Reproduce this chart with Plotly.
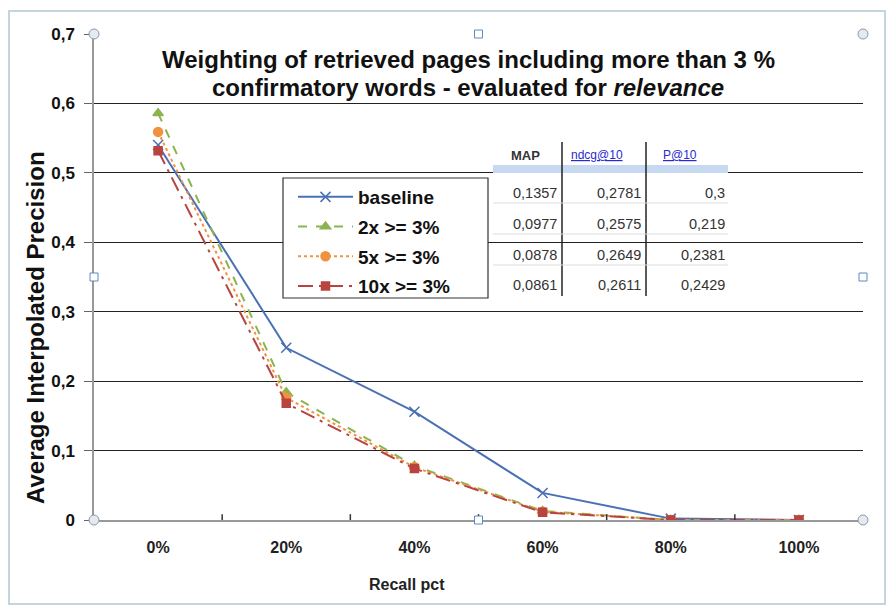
import plotly.graph_objects as go

categories = ["0%", "20%", "40%", "60%", "80%", "100%"]
baseline = [0.540, 0.248, 0.156, 0.039, 0.002, 0.0]
x2 = [0.586, 0.184, 0.078, 0.013, 0.0, 0.0]
x5 = [0.559, 0.176, 0.076, 0.012, 0.0, 0.0]
x10 = [0.532, 0.168, 0.074, 0.011, 0.0, 0.0]
series_names = ["baseline", "2x >= 3%", "5x >= 3%", "10x >= 3%"]

table_header = ["MAP", "ndcg@10", "P@10"]
table_map = ["0,1357", "0,0977", "0,0878", "0,0861"]
table_ndcg = ["0,2781", "0,2575", "0,2649", "0,2611"]
table_p10 = ["0,3", "0,219", "0,2381", "0,2429"]
y_ticks = [0, 0.1, 0.2, 0.3, 0.4, 0.5, 0.6, 0.7]
y_tick_text = ["0", "0,1", "0,2", "0,3", "0,4", "0,5", "0,6", "0,7"]

W, H = 893, 609
L, R, T, B = 94, 863, 34, 520

def px(x):
    return (x - L) / (R - L)

def py(y):
    return (B - y) / (B - T)

FONT = "Arial, Liberation Sans, sans-serif"

fig = go.Figure()
styles = [
    dict(color="#4A70B5", dash="solid", symbol="x-thin", size=10, lw=2),
    dict(color="#8DB350", dash="dash", symbol="triangle-up", size=9, lw=2),
    dict(color="#F0923F", dash="dot", symbol="circle", size=9, lw=2),
    dict(color="#B8433F", dash="longdashdot", symbol="square", size=8, lw=2),
]
for i, (name, vals) in enumerate(zip(series_names, [baseline, x2, x5, x10])):
    s = styles[i]
    fig.add_trace(go.Scatter(
        x=categories, y=vals, name=f"<b>{name}</b>", mode="lines+markers",
        legendgroup=f"g{i}",
        line=dict(color=s["color"], dash=s["dash"], width=s["lw"]),
        marker=dict(symbol=s["symbol"], size=s["size"], color=s["color"],
                    line=dict(color=s["color"], width=1.5)),
    ))

fig.update_layout(
    width=W, height=H,
    margin=dict(l=L, r=W - R, t=T, b=H - B),
    paper_bgcolor="white", plot_bgcolor="white",
    font=dict(family=FONT, color="#111"),
    showlegend=True,
    legend=dict(
        x=px(293), y=py(178), xanchor="left", yanchor="top",
        borderwidth=0, bgcolor="rgba(0,0,0,0)",
        font=dict(family=FONT, size=19, color="#111"),
        itemwidth=55, tracegroupgap=2, traceorder="grouped",
    ),
    xaxis=dict(
        type="category", range=[-0.5, 5.5], showgrid=False,
        showline=True, linecolor="#999", linewidth=1.5,
        tickvals=categories, ticktext=[f"<b>{c}</b>" for c in categories],
        ticks="", tickfont=dict(family=FONT, size=16, color="#222"),
        ticklabelstandoff=12,
    ),
    yaxis=dict(
        range=[0, 0.7], tickvals=y_ticks, ticktext=[f"<b>{t}</b>" for t in y_tick_text],
        showgrid=True, gridcolor="#222", gridwidth=1,
        showline=True, linecolor="#999", linewidth=1.5,
        ticks="outside", ticklen=8, tickcolor="#666",
        tickfont=dict(size=17, color="#111"), zeroline=False,
        ticklabelstandoff=6,
    ),
)

# legend box
fig.add_shape(type="rect", xref="paper", yref="paper", x0=px(283), x1=px(488),
              y0=py(298), y1=py(178), fillcolor="white", line=dict(color="#333", width=1.2),
              layer="above")

# x tick marks between categories (inside, pointing up)
for k in range(1, 6):
    fig.add_shape(type="line", xref="x", yref="paper", x0=k - 0.5, x1=k - 0.5,
                  y0=0, y1=0.012, line=dict(color="#333", width=1.5))

# Title
title_lines = ["<b>Weighting of retrieved pages including more than 3 %</b>",
               "<b>confirmatory words - evaluated for <i>relevance</i></b>"]
for line_text, yv in zip(title_lines, [60, 87]):
    fig.add_annotation(
        xref="paper", yref="paper", x=px(468), y=py(yv), xanchor="center", yanchor="middle",
        text=line_text, showarrow=False, font=dict(family=FONT, size=24, color="#111"),
        bgcolor="white", borderpad=0,
    )

# Axis titles
fig.add_annotation(xref="paper", yref="paper", x=px(35), y=py(328), xanchor="center", yanchor="middle",
                   text="<b>Average Interpolated Precision</b>", textangle=-90, showarrow=False,
                   font=dict(family=FONT, size=24, color="#111"))
fig.add_annotation(xref="paper", yref="paper", x=px(407), y=py(584), xanchor="center", yanchor="middle",
                   text="<b>Recall pct</b>", showarrow=False,
                   font=dict(family=FONT, size=16, color="#222"))

# Table
fig.add_shape(type="rect", xref="paper", yref="paper", x0=px(493), x1=px(728),
              y0=py(173), y1=py(165), fillcolor="#C6D9F0", line=dict(width=0))
for xv in [562, 646]:
    fig.add_shape(type="line", xref="paper", yref="paper", x0=px(xv), x1=px(xv),
                  y0=py(142), y1=py(296), line=dict(color="#222", width=1.5))
for yv in [203, 234, 265]:
    fig.add_shape(type="line", xref="paper", yref="paper", x0=px(493), x1=px(728),
                  y0=py(yv), y1=py(yv), line=dict(color="#DDD", width=1))

hx = [525, 597, 680]
fig.add_annotation(xref="paper", yref="paper", x=px(hx[0]), y=py(155), xanchor="center", yanchor="middle",
                   text=f"<b>{table_header[0]}</b>", showarrow=False, font=dict(size=13, color="#333"))
for j in (1, 2):
    fig.add_annotation(xref="paper", yref="paper", x=px(hx[j]), y=py(155), xanchor="center", yanchor="middle",
                       text=f"<u>{table_header[j]}</u>", showarrow=False, font=dict(size=12, color="#2A2AD0"))
row_y = [193, 224, 255, 285]
col_right = [559, 643, 727]
for r in range(4):
    for c, col in enumerate([table_map, table_ndcg, table_p10]):
        fig.add_annotation(xref="paper", yref="paper", x=px(col_right[c]), y=py(row_y[r]),
                           xanchor="right", yanchor="middle", text=col[r], showarrow=False,
                           font=dict(size=14.5, color="#333"))

# Outer chart border
fig.add_shape(type="rect", xref="paper", yref="paper", x0=px(9), x1=px(885), y0=py(604), y1=py(11),
              line=dict(color="#C5D5DD", width=2), layer="below")

# Selection handles
for (hxp, hyp) in [(L, T), (R, T), (L, B), (R, B)]:
    fig.add_shape(type="circle", xref="paper", yref="paper",
                  x0=px(hxp - 5), x1=px(hxp + 5), y0=py(hyp + 5), y1=py(hyp - 5),
                  fillcolor="#E4EAF0", line=dict(color="#8A9AAA", width=1))
for (hxp, hyp) in [((L + R) / 2, T), ((L + R) / 2, B), (L, (T + B) / 2), (R, (T + B) / 2)]:
    fig.add_shape(type="rect", xref="paper", yref="paper",
                  x0=px(hxp - 4), x1=px(hxp + 4), y0=py(hyp + 4), y1=py(hyp - 4),
                  fillcolor="white", line=dict(color="#5A8AC0", width=1))

fig.write_html("out.html")
